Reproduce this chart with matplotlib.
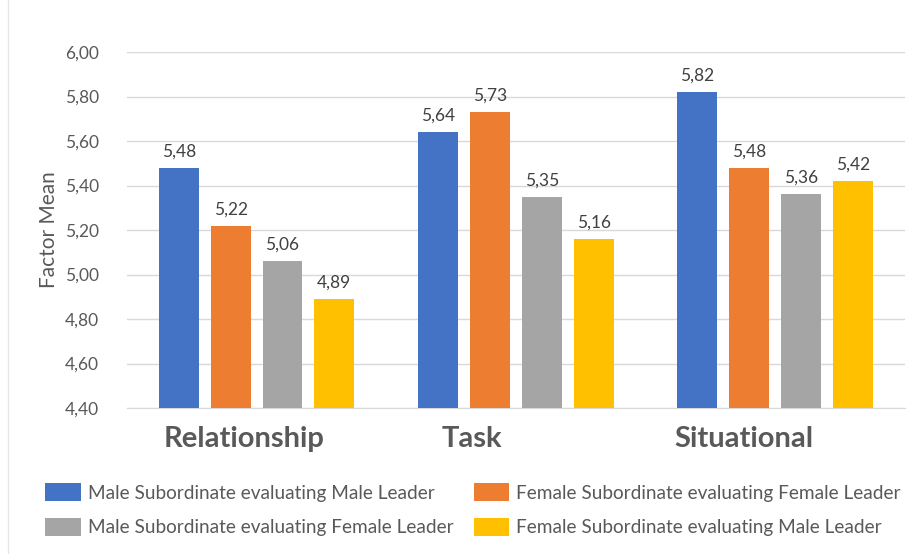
import matplotlib.pyplot as plt
import numpy as np

# chart data
categories = ['Relationship', 'Task', 'Situational']
series_names = ['Male Subordinate evaluating Male Leader',
                'Female Subordinate evaluating Female Leader',
                'Male Subordinate evaluating Female Leader',
                'Female Subordinate evaluating Male Leader']
male_male = [5.48, 5.64, 5.82]
female_female = [5.22, 5.73, 5.48]
male_female = [5.06, 5.35, 5.36]
female_male = [4.89, 5.16, 5.42]
y_ticks = [4.40, 4.60, 4.80, 5.00, 5.20, 5.40, 5.60, 5.80, 6.00]

series = [male_male, female_female, male_female, female_male]
colors = ['#4472C4', '#ED7D31', '#A5A5A5', '#FFC000']

plt.rcParams['font.family'] = ['Lato', 'DejaVu Sans']

fig = plt.figure(figsize=(9.13, 5.54), dpi=100)
ax = fig.add_axes([0.139, 0.2635, 0.852, 0.6425])

x = np.arange(len(categories))
pitch = 0.2
width = 0.154
for i, (vals, name, col) in enumerate(zip(series, series_names, colors)):
    pos = x + (i - 1.5) * pitch
    bars = ax.bar(pos, np.array(vals) - 4.4, width, bottom=4.4, color=col,
                  label=name, zorder=3)
    ax.bar_label(bars, labels=[f'{v:.2f}'.replace('.', ',') for v in vals],
                 padding=6, fontsize=12.5, color='#404040')

ax.set_xlim(-0.5, 2.5)
ax.set_ylim(4.4, 6.0)
ax.set_yticks(y_ticks)
ax.set_yticklabels([f'{v:.2f}'.replace('.', ',') for v in y_ticks],
                   fontsize=12.5, color='#595959')
ax.tick_params(axis='y', length=0, pad=20)
ax.set_ylabel('Factor Mean', fontsize=15, color='#595959', labelpad=4)
ax.grid(axis='y', color='#d9d9d9', linewidth=1, zorder=0)
for s in ['top', 'right', 'left']:
    ax.spines[s].set_visible(False)
ax.spines['bottom'].set_color('#d9d9d9')

# category labels (slightly left of group centre, as in the original)
ax.set_xticks([])
offsets = [-0.05, -0.17, -0.12]
for xi, cat, off in zip(x, categories, offsets):
    ax.text(xi + off, 4.26, cat, ha='center', va='center', fontsize=21,
            fontweight='bold', color='#595959')

# legend filled row by row
handles, labels = ax.get_legend_handles_labels()
order = [0, 2, 1, 3]
fig.legend([handles[k] for k in order], [labels[k] for k in order],
           loc='upper left', bbox_to_anchor=(0.031, 0.159),
           ncol=2, frameon=False, fontsize=13.7, labelcolor='#595959',
           handlelength=1.88, handleheight=1.1, handletextpad=0.36,
           columnspacing=1.05, labelspacing=0.84)

# faint frame line on the left
fig.add_artist(plt.Line2D([0.009, 0.009], [0, 1], color='#e6e6e6', lw=1))

fig.savefig('out.png', dpi=100)
